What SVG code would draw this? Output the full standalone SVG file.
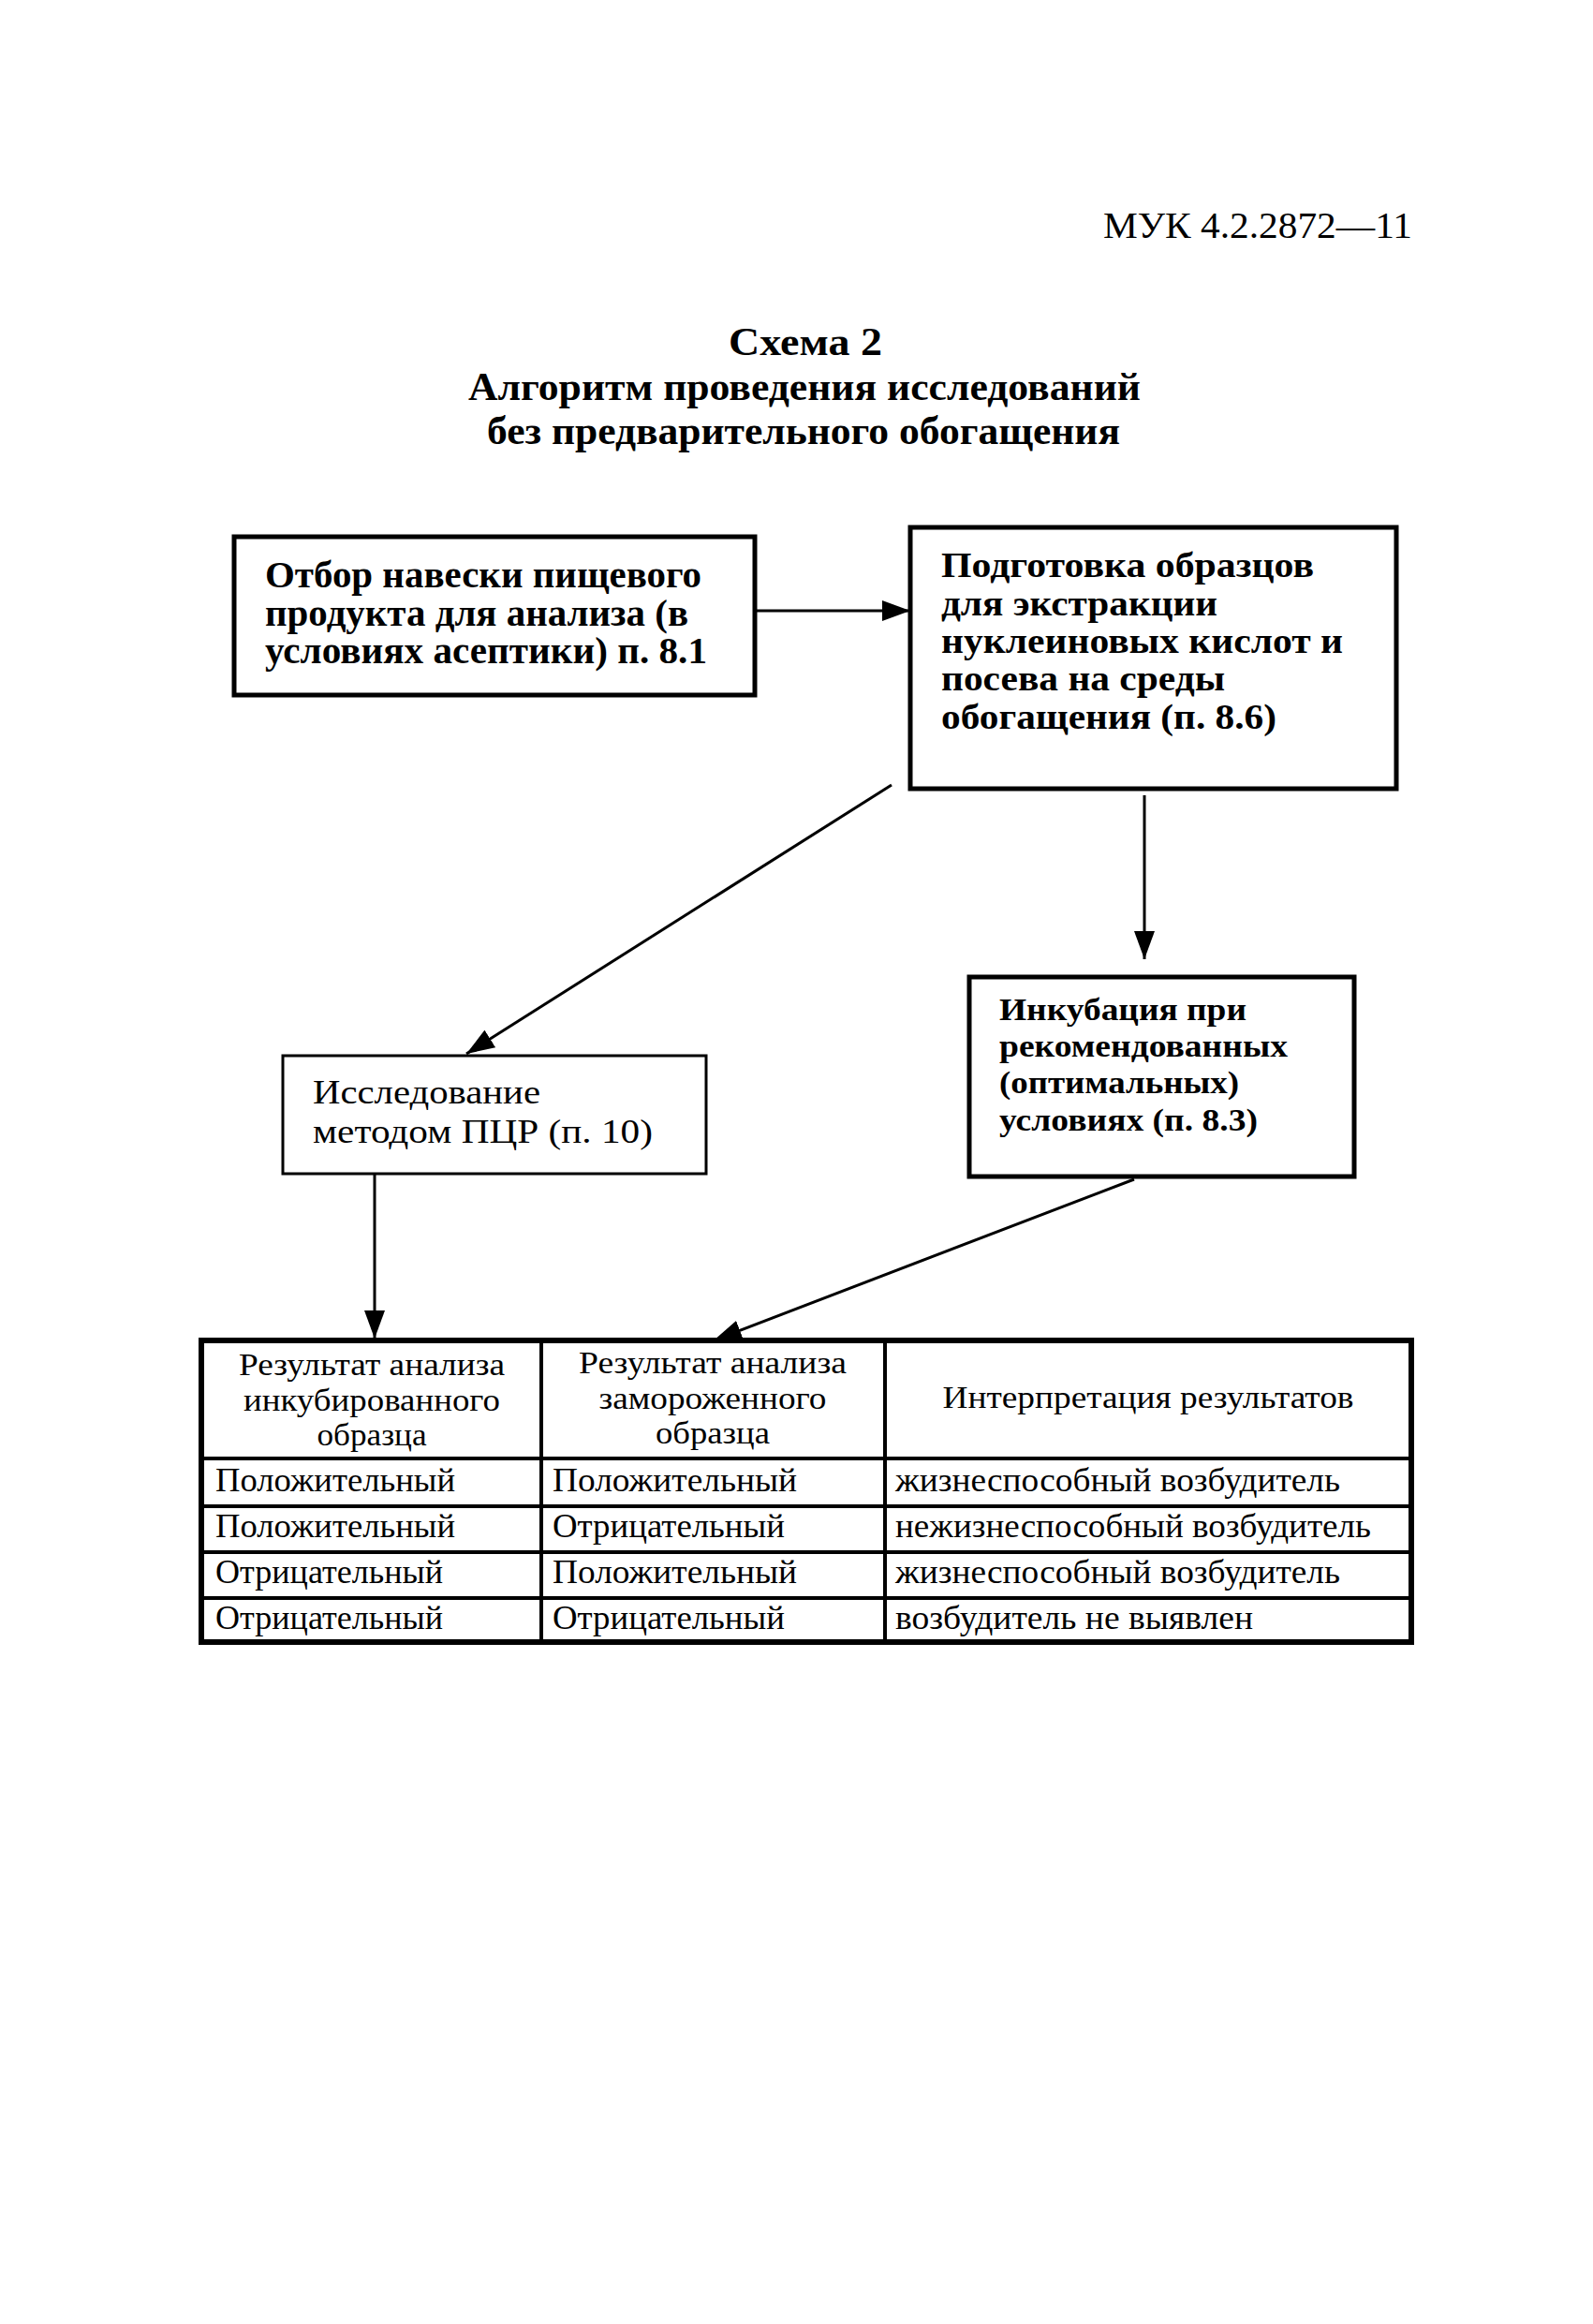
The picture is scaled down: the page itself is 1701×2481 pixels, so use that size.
<svg xmlns="http://www.w3.org/2000/svg" width="1701" height="2481" viewBox="0 0 1701 2481">
<style>
text{font-family:"Liberation Serif","Times New Roman",serif;fill:#000}
.b{font-weight:bold}
.box{fill:#fff;stroke:#000}
.ln{stroke:#000;stroke-width:3;fill:none}
.tl{stroke:#000;stroke-width:4}
</style>
<defs>
<marker id="ah" markerUnits="userSpaceOnUse" markerWidth="30" markerHeight="22" refX="30" refY="11" orient="auto">
<path d="M0,0 L30,11 L0,22 z" fill="#000"/>
</marker>
</defs>
<rect width="1701" height="2481" fill="#fff"/>
<text x="1508" y="254" font-size="41" text-anchor="end" textLength="330" lengthAdjust="spacingAndGlyphs">МУК 4.2.2872—11</text>
<g id="title" text-anchor="middle">
<text class="b" font-size="42" x="860" y="379" textLength="164" lengthAdjust="spacingAndGlyphs">Схема 2</text>
<text class="b" font-size="42" x="859" y="427" textLength="718" lengthAdjust="spacingAndGlyphs">Алгоритм проведения исследований</text>
<text class="b" font-size="42" x="858" y="474" textLength="676" lengthAdjust="spacingAndGlyphs">без предварительного обогащения</text>
</g>
<g id="n1">
<rect class="box" x="250" y="573" width="556" height="169" stroke-width="5"/>
<text class="b" font-size="39" x="283" y="627" textLength="466" lengthAdjust="spacingAndGlyphs">Отбор навески пищевого</text>
<text class="b" font-size="39" x="283" y="668" textLength="452" lengthAdjust="spacingAndGlyphs">продукта для анализа (в</text>
<text class="b" font-size="39" x="283" y="708" textLength="472" lengthAdjust="spacingAndGlyphs">условиях асептики) п. 8.1</text>
</g>
<g id="n2">
<rect class="box" x="972" y="563" width="519" height="279" stroke-width="5"/>
<text class="b" font-size="38" x="1005" y="616" textLength="398" lengthAdjust="spacingAndGlyphs">Подготовка образцов</text>
<text class="b" font-size="38" x="1005" y="657" textLength="295" lengthAdjust="spacingAndGlyphs">для экстракции</text>
<text class="b" font-size="38" x="1005" y="697" textLength="429" lengthAdjust="spacingAndGlyphs">нуклеиновых кислот и</text>
<text class="b" font-size="38" x="1005" y="737" textLength="303" lengthAdjust="spacingAndGlyphs">посева на среды</text>
<text class="b" font-size="38" x="1005" y="778" textLength="358" lengthAdjust="spacingAndGlyphs">обогащения (п. 8.6)</text>
</g>
<g id="n3">
<rect class="box" x="302" y="1127" width="452" height="126" stroke-width="3"/>
<text font-size="35" x="334" y="1178" textLength="243" lengthAdjust="spacingAndGlyphs">Исследование</text>
<text font-size="35" x="334" y="1220" textLength="363" lengthAdjust="spacingAndGlyphs">методом ПЦР (п. 10)</text>
</g>
<g id="n4">
<rect class="box" x="1035" y="1043" width="411" height="213" stroke-width="5"/>
<text class="b" font-size="33" x="1067" y="1089" textLength="264" lengthAdjust="spacingAndGlyphs">Инкубация при</text>
<text class="b" font-size="33" x="1067" y="1128" textLength="308" lengthAdjust="spacingAndGlyphs">рекомендованных</text>
<text class="b" font-size="33" x="1067" y="1167" textLength="256" lengthAdjust="spacingAndGlyphs">(оптимальных)</text>
<text class="b" font-size="33" x="1067" y="1207" textLength="276" lengthAdjust="spacingAndGlyphs">условиях (п. 8.3)</text>
</g>
<g id="connectors">
<line class="ln" x1="806" y1="652" x2="972" y2="652" marker-end="url(#ah)"/>
<line class="ln" x1="952" y1="838" x2="498" y2="1125" marker-end="url(#ah)"/>
<line class="ln" x1="1222" y1="849" x2="1222" y2="1024" marker-end="url(#ah)"/>
<line class="ln" x1="400" y1="1253" x2="400" y2="1429" marker-end="url(#ah)"/>
<line class="ln" x1="1211" y1="1259" x2="762" y2="1431" marker-end="url(#ah)"/>
</g>
<g id="table">
<rect x="215" y="1431" width="1292" height="322" fill="#fff" stroke="#000" stroke-width="6"/>
<line class="tl" x1="578" y1="1431" x2="578" y2="1753"/>
<line class="tl" x1="945" y1="1431" x2="945" y2="1753"/>
<line class="tl" x1="215" y1="1557" x2="1507" y2="1557" stroke-width="5"/>
<line class="tl" x1="215" y1="1608" x2="1507" y2="1608"/>
<line class="tl" x1="215" y1="1657" x2="1507" y2="1657"/>
<line class="tl" x1="215" y1="1706" x2="1507" y2="1706"/>
<g font-size="34" text-anchor="middle">
<text x="397" y="1468" textLength="284" lengthAdjust="spacingAndGlyphs">Результат анализа</text>
<text x="397" y="1506" textLength="274" lengthAdjust="spacingAndGlyphs">инкубированного</text>
<text x="397" y="1543" textLength="117" lengthAdjust="spacingAndGlyphs">образца</text>
<text x="761" y="1466" textLength="286" lengthAdjust="spacingAndGlyphs">Результат анализа</text>
<text x="761" y="1504" textLength="243" lengthAdjust="spacingAndGlyphs">замороженного</text>
<text x="761" y="1541" textLength="122" lengthAdjust="spacingAndGlyphs">образца</text>
<text x="1226" y="1503" textLength="439" lengthAdjust="spacingAndGlyphs">Интерпретация результатов</text>
</g>
<g font-size="35">
<text x="230" y="1592" textLength="256" lengthAdjust="spacingAndGlyphs">Положительный</text>
<text x="590" y="1592" textLength="261" lengthAdjust="spacingAndGlyphs">Положительный</text>
<text x="956" y="1592" textLength="475" lengthAdjust="spacingAndGlyphs">жизнеспособный возбудитель</text>
<text x="230" y="1641" textLength="256" lengthAdjust="spacingAndGlyphs">Положительный</text>
<text x="590" y="1641" textLength="248" lengthAdjust="spacingAndGlyphs">Отрицательный</text>
<text x="956" y="1641" textLength="508" lengthAdjust="spacingAndGlyphs">нежизнеспособный возбудитель</text>
<text x="230" y="1690" textLength="243" lengthAdjust="spacingAndGlyphs">Отрицательный</text>
<text x="590" y="1690" textLength="261" lengthAdjust="spacingAndGlyphs">Положительный</text>
<text x="956" y="1690" textLength="475" lengthAdjust="spacingAndGlyphs">жизнеспособный возбудитель</text>
<text x="230" y="1739" textLength="243" lengthAdjust="spacingAndGlyphs">Отрицательный</text>
<text x="590" y="1739" textLength="248" lengthAdjust="spacingAndGlyphs">Отрицательный</text>
<text x="956" y="1739" textLength="382" lengthAdjust="spacingAndGlyphs">возбудитель не выявлен</text>
</g>
</g>
</svg>
